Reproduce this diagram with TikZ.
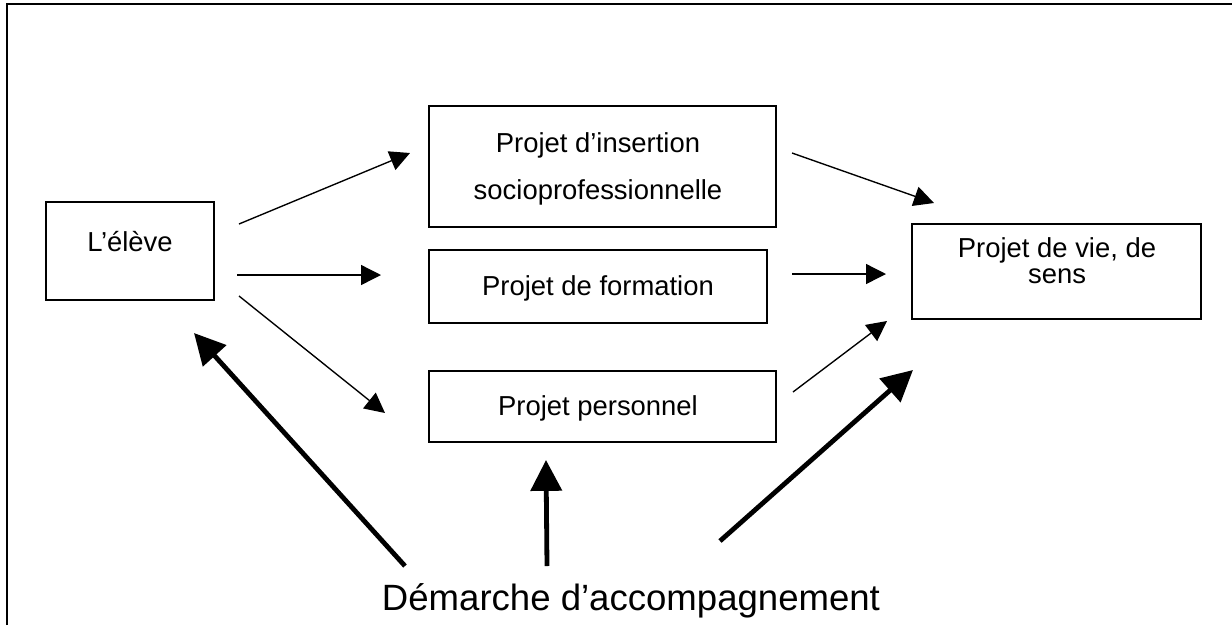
\documentclass[tikz,border=0pt]{standalone}
\usepackage{fontspec}
\setmainfont{Liberation Sans}
\usetikzlibrary{arrows.meta,fit}
\begin{document}
\begin{tikzpicture}[x=0.4375pt,y=-0.4375pt,
  box/.style={draw, line width=0.6pt, inner sep=0pt},
  txt/.style={anchor=base, inner sep=0pt, font=\fontsize{12}{14}\selectfont},
  bigtxt/.style={anchor=base, inner sep=0pt, font=\fontsize{16}{19}\selectfont},
  thinarrow/.style={line width=0.6pt, -{Triangle[length=8.75pt,width=8.75pt]}},
  thickarrow/.style={line width=2.1pt, -{Triangle[length=13.5pt,width=13.5pt]}}]
\useasboundingbox (0,0) rectangle (1232,625);

% frame (top and left edges)
\draw[line width=0.9pt] (7,625) -- (7,4) -- (1232,4);

% boxes
\node[box, fit={(46,202) (214,300)}] (eleve) {};
\node[box, fit={(429,106) (776,227)}] (insertion) {};
\node[box, fit={(429,250) (767,323)}] (formation) {};
\node[box, fit={(429,371) (776,442)}] (personnel) {};
\node[box, fit={(912,224) (1201,319)}] (vie) {};

% box texts
\node[txt] (eleveT) at (130,251) {L’élève};
\node[txt] (insertionT1) at (598,152) {Projet d’insertion};
\node[txt] (insertionT2) at (598,199) {socioprofessionnelle};
\node[txt] (formationT) at (598,295) {Projet de formation};
\node[txt] (personnelT) at (598,415) {Projet personnel};
\node[txt] (vieT1) at (1057,257) {Projet de vie, de};
\node[txt] (vieT2) at (1057,283) {sens};
\node[bigtxt] (demarche) at (631,610) {Démarche d’accompagnement};

% connector end points
\coordinate (a1s) at (239,224); \coordinate (a1e) at (410,153);
\coordinate (a2s) at (237,275); \coordinate (a2e) at (381,275);
\coordinate (a3s) at (239,296); \coordinate (a3e) at (385,413);
\coordinate (a4s) at (792,153); \coordinate (a4e) at (934,203);
\coordinate (a5s) at (792,274); \coordinate (a5e) at (886,274);
\coordinate (a6s) at (793,392); \coordinate (a6e) at (887,321);
\coordinate (t1s) at (405,566); \coordinate (t1e) at (194,333);
\coordinate (t2s) at (547,566); \coordinate (t2e) at (546,460);
\coordinate (t3s) at (720,541); \coordinate (t3e) at (913,370);

% thin arrows
\draw[thinarrow] (a1s) -- (a1e);
\draw[thinarrow] (a2s) -- (a2e);
\draw[thinarrow] (a3s) -- (a3e);
\draw[thinarrow] (a4s) -- (a4e);
\draw[thinarrow] (a5s) -- (a5e);
\draw[thinarrow] (a6s) -- (a6e);

% thick arrows
\draw[thickarrow] (t1s) -- (t1e);
\draw[thickarrow] (t2s) -- (t2e);
\draw[thickarrow] (t3s) -- (t3e);
\end{tikzpicture}
\end{document}
